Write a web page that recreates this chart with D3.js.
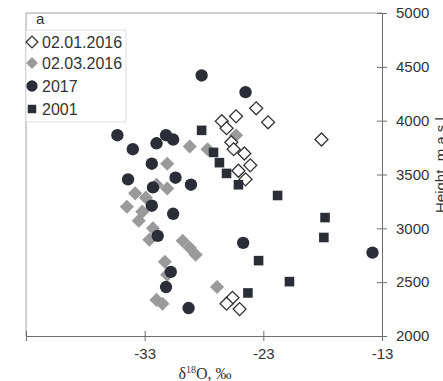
<!DOCTYPE html>
<html>
<head>
<meta charset="utf-8">
<script src="https://cdn.jsdelivr.net/npm/d3@7"></script>
<style>
  body { margin: 0; background: #fff; }
  svg { display: block; font-family: "Liberation Sans", Arial, sans-serif; }
</style>
</head>
<body>
<svg width="443" height="381"></svg>
<script>
// Series values: [delta18O, height]
let jan2016 = [
  [-23.6, 4115], [-25.3, 4040], [-26.5, 3995], [-26.1, 3930], [-22.6, 3985],
  [-18.1, 3825], [-25.7, 3800], [-25.5, 3735], [-24.6, 3695], [-24.1, 3585],
  [-25.1, 3535], [-24.5, 3455], [-25.6, 2355], [-26.1, 2300], [-25.0, 2250]
];
let mar2016 = [
  [-29.2, 3760], [-27.7, 3735], [-25.3, 3865], [-31.1, 3600], [-32.0, 3405],
  [-31.1, 3370], [-33.8, 3325], [-32.9, 3285], [-34.5, 3200], [-33.2, 3155],
  [-33.5, 3070], [-32.3, 3000], [-32.6, 2895], [-29.8, 2885], [-29.2, 2820],
  [-28.7, 2755], [-31.3, 2690], [-31.1, 2570], [-26.9, 2455], [-32.0, 2335],
  [-31.5, 2300]
];
let y2017 = [
  [-28.2, 4420], [-24.5, 4265], [-35.3, 3865], [-31.2, 3865], [-30.6, 3825],
  [-32.0, 3790], [-34.0, 3735], [-32.4, 3600], [-34.4, 3455], [-30.4, 3470],
  [-29.1, 3405], [-32.3, 3380], [-32.4, 3210], [-30.6, 3135], [-31.9, 2930],
  [-24.7, 2865], [-30.8, 2595], [-31.2, 2455], [-29.3, 2260], [-13.8, 2775]
];
let y2001 = [
  [-28.2, 3910], [-27.2, 3705], [-26.7, 3610], [-26.1, 3510], [-25.1, 3405],
  [-21.8, 3305], [-17.8, 3100], [-17.9, 2915], [-23.4, 2700], [-20.8, 2505],
  [-24.3, 2400]
];

let xTicks = [-43, -33, -23, -13];
let yTicks = [2000, 2500, 3000, 3500, 4000, 4500, 5000];
let seriesNames = ["02.01.2016", "02.03.2016", "2017", "2001"];

let svg = d3.select("svg"),
  margin = { top: 13, right: 61, bottom: 45, left: 26 },
  width = 443 - margin.left - margin.right,
  height = 381 - margin.top - margin.bottom,
  g = svg.append("g").attr("transform", "translate(" + margin.left + "," + margin.top + ")");

let colors = {
  dark: "#2b2e36",
  gray: "#9a9a9a",
  axis: "#6e6e6e",
  frame: "#a0a0a0",
  text: "#333"
};

let x = d3.scaleLinear().domain([-43, -13]).range([0, width]);
let y = d3.scaleLinear().domain([2000, 5000]).range([height, 0]);

// Frame: top and left lines
g.append("line")
  .attr("x1", 0).attr("x2", width).attr("y1", 0).attr("y2", 0)
  .attr("stroke", colors.frame);
g.append("line")
  .attr("x1", 0).attr("x2", 0).attr("y1", 0).attr("y2", height)
  .attr("stroke", colors.frame);

// X axis
let xAxis = g.append("g")
  .attr("transform", "translate(0," + height + ")")
  .call(d3.axisBottom(x).tickValues(xTicks).tickSize(5)
    .tickFormat(d => d == -43 ? "" : d));
xAxis.select(".domain").attr("stroke", colors.axis);
xAxis.selectAll(".tick line").attr("stroke", colors.axis).attr("y1", -5);
xAxis.selectAll(".tick text")
  .attr("y", 12).attr("dy", "0.71em")
  .style("font-size", "15px").attr("fill", colors.text)
  .style("font-family", "Liberation Sans, Arial, sans-serif");

// Y axis on the right
let yAxis = g.append("g")
  .attr("transform", "translate(" + width + ",0)")
  .call(d3.axisRight(y).tickValues(yTicks).tickSize(5).tickFormat(d3.format("d")));
yAxis.select(".domain").attr("stroke", colors.axis);
yAxis.selectAll(".tick line").attr("stroke", colors.axis).attr("x1", -5);
yAxis.selectAll(".tick text")
  .attr("x", 14)
  .style("font-size", "15px").attr("fill", colors.text)
  .style("font-family", "Liberation Sans, Arial, sans-serif");

// Axis titles
let xTitle = svg.append("text")
  .attr("x", 205)
  .attr("y", 379)
  .attr("text-anchor", "middle")
  .style("font-family", "Liberation Serif, Times New Roman, serif")
  .style("font-size", "16px")
  .attr("fill", colors.text);
xTitle.append("tspan").text("δ");
xTitle.append("tspan").attr("dy", -6).style("font-size", "10px").text("18");
xTitle.append("tspan").attr("dy", 6).text("O, ‰");

svg.append("text")
  .attr("transform", "translate(446,213) rotate(-90)")
  .attr("text-anchor", "start")
  .style("font-size", "15px")
  .attr("fill", colors.text)
  .text("Height, m a.s.l.");

// Marker helpers
let diamond = d3.symbol(d3.symbolSquare, 84);
let square = d3.symbol(d3.symbolSquare, 92);

function drawMarks(data, kind) {
  let sel = g.append("g").selectAll("path").data(data).enter().append("path");
  if (kind == "open") {
    sel.attr("d", diamond)
      .attr("transform", d => "translate(" + x(d[0]) + "," + y(d[1]) + ") rotate(45)")
      .attr("fill", "#fff").attr("stroke", "#333").attr("stroke-width", 1.3);
  } else if (kind == "gray") {
    sel.attr("d", d3.symbol(d3.symbolSquare, 100))
      .attr("transform", d => "translate(" + x(d[0]) + "," + y(d[1]) + ") rotate(45)")
      .attr("fill", colors.gray);
  } else if (kind == "circle") {
    sel.attr("d", d3.symbol(d3.symbolCircle, 120))
      .attr("transform", d => "translate(" + x(d[0]) + "," + y(d[1]) + ")")
      .attr("fill", colors.dark);
  } else {
    sel.attr("d", square)
      .attr("transform", d => "translate(" + x(d[0]) + "," + y(d[1]) + ")")
      .attr("fill", colors.dark);
  }
}

drawMarks(mar2016, "gray");
drawMarks(jan2016, "open");
drawMarks(y2017, "circle");
drawMarks(y2001, "square");

// Panel letter
g.append("text")
  .attr("x", 10).attr("y", 11)
  .style("font-size", "15px")
  .attr("fill", colors.text)
  .text("a");

// Legend
let legend = g.append("g").attr("transform", "translate(0,17)");
legend.append("rect")
  .attr("x", 0).attr("y", 0)
  .attr("width", 100).attr("height", 92)
  .attr("fill", "#fff").attr("stroke", "#ddd");

let legendKinds = ["open", "gray", "circle", "square"];
let legendY = [12, 33, 56, 79];
seriesNames.forEach((name, i) => {
  let cx = 6, cy = legendY[i];
  let kind = legendKinds[i];
  let mark = legend.append("path");
  if (kind == "open") {
    mark.attr("d", d3.symbol(d3.symbolSquare, 70))
      .attr("transform", "translate(" + cx + "," + cy + ") rotate(45)")
      .attr("fill", "#fff").attr("stroke", "#333").attr("stroke-width", 1.3);
  } else if (kind == "gray") {
    mark.attr("d", d3.symbol(d3.symbolSquare, 70))
      .attr("transform", "translate(" + cx + "," + cy + ") rotate(45)")
      .attr("fill", colors.gray);
  } else if (kind == "circle") {
    mark.attr("d", d3.symbol(d3.symbolCircle, 100))
      .attr("transform", "translate(" + cx + "," + cy + ")")
      .attr("fill", colors.dark);
  } else {
    mark.attr("d", d3.symbol(d3.symbolSquare, 72))
      .attr("transform", "translate(" + cx + "," + cy + ")")
      .attr("fill", colors.dark);
  }
  legend.append("text")
    .attr("x", 16).attr("y", cy)
    .attr("dy", "0.36em")
    .style("font-size", "16px")
    .attr("fill", colors.text)
    .text(name);
});
</script>
</body>
</html>
